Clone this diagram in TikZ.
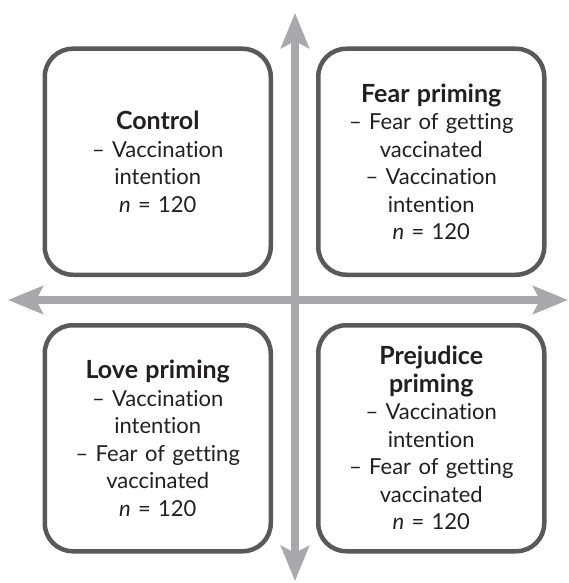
\documentclass[tikz,border=0pt]{standalone}
\usepackage{fontspec}
\setmainfont{Lato}[Ligatures=NoCommon]
\usepackage{tikz}
\usetikzlibrary{arrows.meta}
\usetikzlibrary{positioning}

\definecolor{axisgray}{HTML}{A7A9AC}
\definecolor{boxgray}{HTML}{58595B}
\definecolor{textblack}{HTML}{231F20}

\newcommand{\grouptitle}[1]{{\fontsize{25}{28}\selectfont\bfseries #1}}

\begin{document}
\begin{tikzpicture}[x=1pt, y=-1pt,
    axis/.style={line width=7.5pt, draw=axisgray,
        {Stealth[length=35pt, width=28pt, inset=7pt]}-{Stealth[length=35pt, width=28pt, inset=7pt]}},
    group/.style={draw=boxgray, line width=4.5pt, rounded corners=28pt, fill=white,
        minimum width=226pt, minimum height=226pt, text width=210pt, align=center,
        text=textblack, font=\fontsize{22}{27.5}\selectfont}
]
        \useasboundingbox (0,0) rectangle (569,583);

        % Axes crossing and arrow ends
        \coordinate (origin) at (295,300);
        \coordinate (north) at (295,13);
        \coordinate (south) at (295,581);
        \coordinate (west) at (8,300);
        \coordinate (east) at (568,300);
        \draw [axis] (south) -- (north);
        \draw [axis] (west) -- (east);

        % Four experimental groups
        \node [group, above left=23pt and 22pt of origin] (control)
            {\grouptitle{Control}\\ – Vaccination\\ intention\\ \textit{n} = 120};
        \node [group, above right=23pt and 21pt of origin] (fear)
            {\grouptitle{Fear priming}\\ – Fear of getting\\ vaccinated\\ – Vaccination\\ intention\\ \textit{n} = 120};
        \node [group, below left=23pt and 22pt of origin] (love)
            {\grouptitle{Love priming}\\ – Vaccination\\ intention\\ – Fear of getting\\ vaccinated\\ \textit{n} = 120};
        \node [group, below right=23pt and 21pt of origin] (prejudice)
            {\grouptitle{Prejudice}\\ \grouptitle{priming}\\ – Vaccination\\ intention\\ – Fear of getting\\ vaccinated\\ \textit{n} = 120};
    \end{tikzpicture}
\end{document}
